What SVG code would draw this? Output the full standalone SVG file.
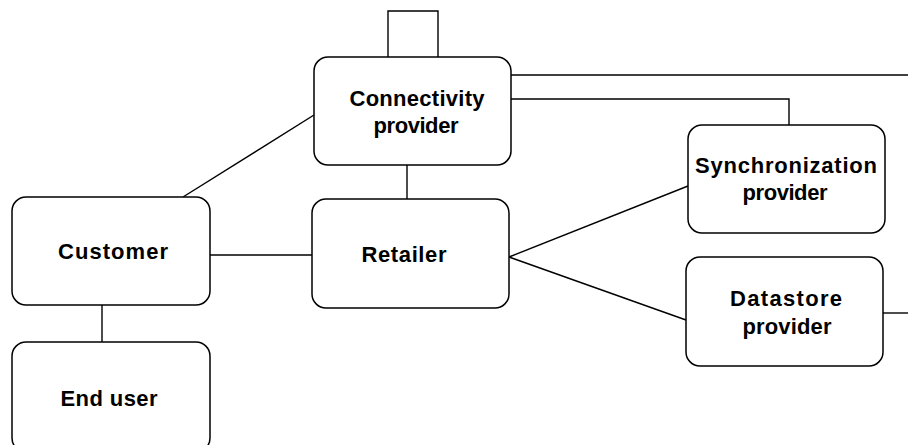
<svg xmlns="http://www.w3.org/2000/svg" width="908" height="445" viewBox="0 0 908 445">
  <style>
    .box { fill: #ffffff; stroke: #000000; stroke-width: 1.5; }
    .wire { fill: none; stroke: #000000; stroke-width: 1.4; }
    .label { font-family: "Liberation Sans", Arial, sans-serif; font-weight: bold; font-size: 22px; fill: #000000; text-anchor: middle; }
  </style>
  <rect width="908" height="445" fill="#ffffff"/>

  <!-- connectors -->
  <g id="connectors">
    <!-- self-loop on top of the connectivity provider -->
    <polyline class="wire" points="388,57 388,11 438,11 438,57"/>
    <!-- connectivity provider off to the right edge -->
    <line class="wire" x1="511" y1="75" x2="908" y2="75"/>
    <!-- connectivity provider to synchronization provider -->
    <polyline class="wire" points="511,99 789,99 789,125"/>
    <!-- customer to connectivity provider -->
    <line class="wire" x1="183" y1="197" x2="314" y2="115"/>
    <!-- connectivity provider to retailer -->
    <line class="wire" x1="407" y1="165" x2="407" y2="199"/>
    <!-- customer to retailer -->
    <line class="wire" x1="210" y1="255" x2="312" y2="255"/>
    <!-- customer to end user -->
    <line class="wire" x1="102" y1="305" x2="102" y2="342"/>
    <!-- retailer to synchronization provider -->
    <line class="wire" x1="509" y1="257" x2="688" y2="186"/>
    <!-- retailer to datastore provider -->
    <line class="wire" x1="509" y1="257" x2="686" y2="320"/>
    <!-- datastore provider off to the right edge -->
    <line class="wire" x1="883" y1="313" x2="908" y2="313"/>
  </g>

  <g id="connectivity-provider">
    <rect class="box" x="314" y="57" width="197" height="108" rx="14" ry="14"/>
    <text class="label" x="417" y="106" textLength="135" lengthAdjust="spacing">Connectivity</text>
    <text class="label" x="416" y="133" textLength="85" lengthAdjust="spacing">provider</text>
  </g>

  <g id="customer">
    <rect class="box" x="12" y="197" width="198" height="108" rx="14" ry="14"/>
    <text class="label" x="113" y="259" textLength="110" lengthAdjust="spacing">Customer</text>
  </g>

  <g id="retailer">
    <rect class="box" x="312" y="199" width="197" height="109" rx="14" ry="14"/>
    <text class="label" x="404" y="262" textLength="85" lengthAdjust="spacing">Retailer</text>
  </g>

  <g id="synchronization-provider">
    <rect class="box" x="688" y="125" width="197" height="108" rx="14" ry="14"/>
    <text class="label" x="786" y="173" textLength="182" lengthAdjust="spacing">Synchronization</text>
    <text class="label" x="785" y="200" textLength="85" lengthAdjust="spacing">provider</text>
  </g>

  <g id="datastore-provider">
    <rect class="box" x="686" y="257" width="197" height="109" rx="14" ry="14"/>
    <text class="label" x="786" y="306" textLength="112" lengthAdjust="spacing">Datastore</text>
    <text class="label" x="787" y="334" textLength="89" lengthAdjust="spacing">provider</text>
  </g>

  <g id="end-user">
    <rect class="box" x="12" y="342" width="198" height="110" rx="14" ry="14"/>
    <text class="label" x="109" y="406" textLength="97" lengthAdjust="spacing">End user</text>
  </g>
</svg>
